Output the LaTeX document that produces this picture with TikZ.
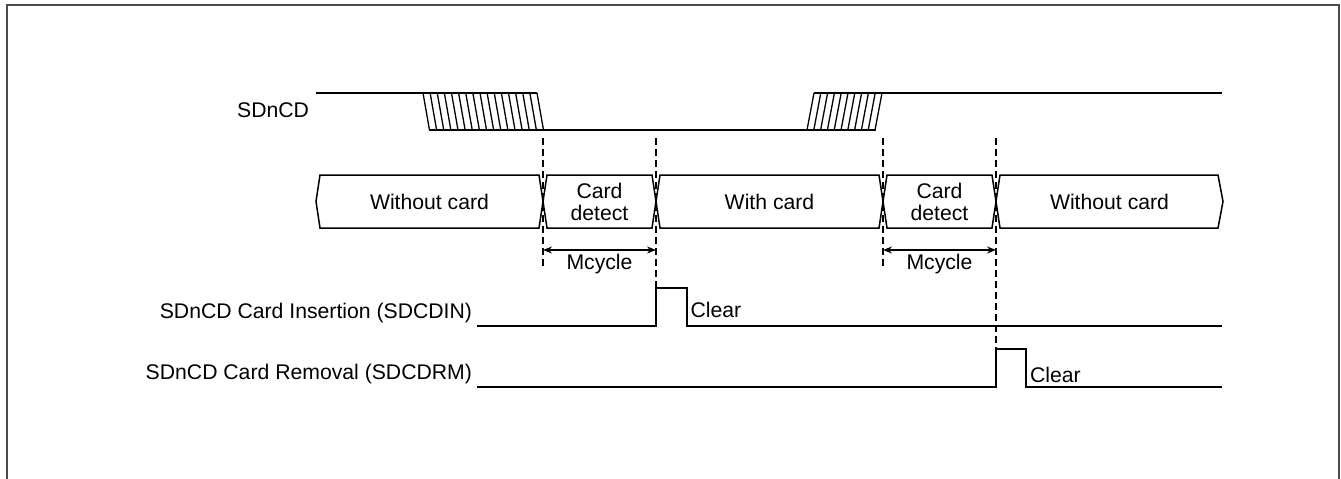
\documentclass[tikz,border=0pt]{standalone}
\usepackage{fontspec}
\setmainfont{Liberation Sans}
\usetikzlibrary{arrows.meta}
\definecolor{framegray}{RGB}{75,75,75}
\begin{document}
\begin{tikzpicture}[x=1pt,y=-1pt,
  every node/.style={font=\fontsize{21.2}{22}\selectfont, inner sep=0pt, outer sep=0pt},
  sig/.style={line width=1.5pt, line join=miter, line cap=butt},
  hatchline/.style={line width=1.3pt},
  busbox/.style={line width=1.5pt, line join=miter},
  guide/.style={line width=1.3pt, dash pattern=on 7pt off 4pt},
  span/.style={line width=1.3pt, {Stealth[length=9pt,width=7pt]}-{Stealth[length=9pt,width=7pt]}},
  frameline/.style={line width=1.8pt, draw=framegray}]
\useasboundingbox (0,0) rectangle (1341,479);

% frame (open at bottom)
\draw[frameline] (6.7,479) -- (6.7,5) -- (1339,5) -- (1339,479);

% ---------- SDnCD signal ----------
\node[anchor=base east] (lblcd) at (309,117.7) {SDnCD};
\draw[sig] (316,93) -- (537,93);
\draw[sig] (429,130) -- (876,130);
\foreach \i in {0,...,16}{
  \draw[hatchline] ({423+\i*114/16},93) -- ({429.5+\i*114/16},130);
}
\draw[sig] (814,93) -- (1222,93);
\foreach \i in {0,...,10}{
  \draw[hatchline] ({814+\i*68/10},93) -- ({807+\i*68/10},130);
}

% ---------- bus ----------
\coordinate (c1) at (543,201.5);
\coordinate (c2) at (656,201.5);
\coordinate (c3) at (883,201.5);
\coordinate (c4) at (996,201.5);
\draw[busbox] (320,175) -- (539,175) -- (c1) -- (539,228) -- (320,228) -- (316,201.5) -- cycle;
\draw[busbox] (547,175) -- (652,175) -- (c2) -- (652,228) -- (547,228) -- (c1) -- cycle;
\draw[busbox] (660,175) -- (879,175) -- (c3) -- (879,228) -- (660,228) -- (c2) -- cycle;
\draw[busbox] (887,175) -- (992,175) -- (c4) -- (992,228) -- (887,228) -- (c3) -- cycle;
\draw[busbox] (1000,175) -- (1218,175) -- (1223,201.5) -- (1218,228) -- (1000,228) -- (c4) -- cycle;

\node (b1) at (429.5,201.5) {Without card};
\node[align=center] (b2) at (599.5,201.5) {Card\\detect};
\node (b3) at (769.5,201.5) {With card};
\node[align=center] (b4) at (939.5,201.5) {Card\\detect};
\node (b5) at (1109.5,201.5) {Without card};

% ---------- guides ----------
\coordinate (g1t) at (543,138); \coordinate (g1b) at (543,268);
\coordinate (g2t) at (656,138); \coordinate (g2b) at (656,288);
\coordinate (g3t) at (883,138); \coordinate (g3b) at (883,268);
\coordinate (g4t) at (996,138); \coordinate (g4b) at (996,349);
\draw[guide] (g1t) -- (g1b);
\draw[guide] (g2t) -- (g2b);
\draw[guide] (g3t) -- (g3b);
\draw[guide] (g4t) -- (g4b);

% ---------- Mcycle ----------
\coordinate (m1a) at (543,250); \coordinate (m1b) at (656,250);
\coordinate (m2a) at (883,250); \coordinate (m2b) at (996,250);
\draw[span] (m1a) -- (m1b);
\draw[span] (m2a) -- (m2b);
\node[anchor=base] (mc1) at (599.5,269) {Mcycle};
\node[anchor=base] (mc2) at (939.5,269) {Mcycle};

% ---------- SDCDIN ----------
\node[anchor=base east] (lblin) at (472,318) {SDnCD Card Insertion (SDCDIN)};
\draw[sig] (477,326) -- (656,326) -- (656,288) -- (687,288) -- (687,326) -- (1222,326);
\node[anchor=base west] (clr1) at (690.5,317.7) {Clear};

% ---------- SDCDRM ----------
\node[anchor=base east] (lblrm) at (472,379) {SDnCD Card Removal (SDCDRM)};
\draw[sig] (477,387) -- (996,387) -- (996,349) -- (1026,349) -- (1026,387) -- (1222,387);
\node[anchor=base west] (clr2) at (1030,382.7) {Clear};
\end{tikzpicture}
\end{document}
